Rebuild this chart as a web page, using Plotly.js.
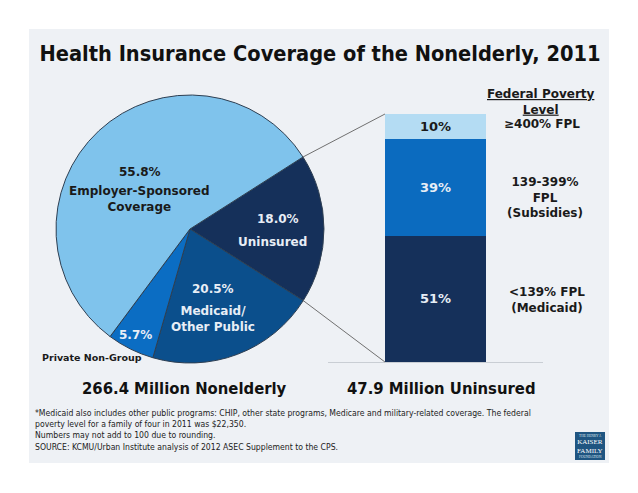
<!DOCTYPE html>
<html>
<head>
<meta charset="utf-8">
<script src="https://cdn.plot.ly/plotly-3.0.1.min.js"></script>
<style>html,body{margin:0;padding:0;background:#fff;}#chart{width:638px;height:493px;}</style>
</head>
<body>
<div id="chart"></div>
<script>
// ---- Data ----
var coverageLabels = ['Uninsured', 'Medicaid/Other Public', 'Private Non-Group', 'Employer-Sponsored Coverage'];
var coverageShares = [18.0, 20.5, 5.7, 55.8];
var coverageColors = ['#15305a', '#0b4f8c', '#0b6dc3', '#7fc3ec'];

var fplLabels = ['<139% FPL (Medicaid)', '139-399% FPL (Subsidies)', '≥400% FPL'];
var fplShares = [51, 39, 10];
var fplColors = ['#15305a', '#0b6bbf', '#b4dcf3'];
var fplTextColors = ['#e6edf5', '#e6edf5', '#1a1a1a'];

var totalNonelderly = '266.4 Million Nonelderly';
var totalUninsured = '47.9 Million Uninsured';

// ---- Geometry (page pixels) ----
var W = 638, H = 493;
function px(x) { return x / W; }
function py(y) { return 1 - y / H; }

var pieCx = 190, pieCy = 229, pieR = 134;
var pieRotation = 57.5;
var barDomX = [328, 543], barDomY = [114, 362];
var barWidth = 0.47;

var FONT = 'DejaVu Sans, Verdana, sans-serif';
var FONTC = 'DejaVu Sans Condensed, DejaVu Sans, sans-serif';

var traces = [];
traces.push({
  type: 'pie',
  labels: coverageLabels,
  values: coverageShares,
  sort: false,
  direction: 'clockwise',
  rotation: pieRotation,
  textinfo: 'none',
  hoverinfo: 'label+percent',
  showlegend: false,
  marker: { colors: coverageColors, line: { color: '#2e3f52', width: 1 } },
  domain: { x: [px(pieCx - pieR), px(pieCx + pieR)], y: [py(pieCy + pieR), py(pieCy - pieR)] }
});

for (var i = 0; i < fplShares.length; i++) {
  traces.push({
    type: 'bar',
    x: ['Uninsured'],
    y: [fplShares[i]],
    name: fplLabels[i],
    width: barWidth,
    text: [fplShares[i] + '%'],
    textposition: 'inside',
    insidetextanchor: 'middle',
    textangle: 0,
    textfont: { family: FONT, size: 13, color: fplTextColors[i], weight: 'bold' },
    marker: { color: fplColors[i], line: { width: 0 } },
    showlegend: false,
    hoverinfo: 'name+y'
  });
}

// connector lines computed from pie data and bar data
var total = coverageShares.reduce(function (a, b) { return a + b; }, 0);
var aStart = pieRotation * Math.PI / 180;
var aEnd = (pieRotation + coverageShares[0] / total * 360) * Math.PI / 180;
function piePt(a) { return [pieCx + pieR * Math.sin(a), pieCy - pieR * Math.cos(a)]; }
var pTop = piePt(aStart), pBot = piePt(aEnd);
var barLeftPx = barDomX[0] + (0.5 - barWidth / 2) * (barDomX[1] - barDomX[0]);
var barSum = fplShares.reduce(function (a, b) { return a + b; }, 0);
var barTopPx = barDomY[1] - (barSum / 100) * (barDomY[1] - barDomY[0]);
var barBotPx = barDomY[1];

var shapes = [
  { type: 'rect', xref: 'paper', yref: 'paper', x0: px(29), x1: px(609), y0: py(463), y1: py(29),
    fillcolor: '#eef1f5', line: { width: 0 }, layer: 'below' },
  { type: 'line', xref: 'paper', yref: 'paper', x0: px(pTop[0]), y0: py(pTop[1]), x1: px(barLeftPx), y1: py(barTopPx),
    line: { color: '#707070', width: 1 } },
  { type: 'line', xref: 'paper', yref: 'paper', x0: px(pBot[0]), y0: py(pBot[1]), x1: px(barLeftPx), y1: py(barBotPx),
    line: { color: '#707070', width: 1 } },
  // logo box
  { type: 'rect', xref: 'paper', yref: 'paper', x0: px(575), x1: px(605), y0: py(460), y1: py(432),
    fillcolor: '#1f5581', line: { width: 0 } }
];

function ann(text, x, y, size, color, opts) {
  var a = { text: text, x: px(x), y: py(y), xref: 'paper', yref: 'paper', showarrow: false,
    xanchor: 'center', yanchor: 'middle',
    font: { family: FONT, size: size, color: color } };
  if (opts) for (var k in opts) a[k] = opts[k];
  return a;
}

var annotations = [
  // pie labels
  ann('<b>' + coverageShares[3].toFixed(1) + '%</b>', 140, 172, 12, '#1a1a1a'),
  ann('<b>Employer-Sponsored<br>Coverage</b>', 139, 199, 12, '#1a1a1a'),
  ann('<b>' + coverageShares[0].toFixed(1) + '%</b>', 278, 219, 12, '#e8eef6'),
  ann('<b>Uninsured</b>', 272, 242, 12, '#e8eef6'),
  ann('<b>' + coverageShares[1].toFixed(1) + '%</b>', 213, 289, 12, '#e8eef6'),
  ann('<b>Medicaid/<br>Other Public</b>', 213, 319, 12, '#e8eef6'),
  ann('<b>' + coverageShares[2].toFixed(1) + '%</b>', 135, 335, 12, '#e8eef6'),
  ann('<b>Private Non-Group</b>', 40, 357, 9.5, '#1a1a1a', { xanchor: 'left' }),
  // right labels
  ann('<b><u>Federal Poverty</u><br><u>Level</u></b>', 541, 102, 12, '#1a1a1a'),
  ann('<b>≥400% FPL</b>', 542, 124, 12, '#1a1a1a'),
  ann('<b>139-399%<br>FPL<br>(Subsidies)</b>', 545, 197, 12, '#1a1a1a'),
  ann('<b>&lt;139% FPL<br>(Medicaid)</b>', 547, 300, 12, '#1a1a1a'),
  // totals
  ann('<b>' + totalNonelderly + '</b>', 184, 388, 16.5, '#111111', { font: { family: FONTC, size: 16.5, color: '#111111' } }),
  ann('<b>' + totalUninsured + '</b>', 442, 388, 16.5, '#111111', { font: { family: FONTC, size: 16.5, color: '#111111' } }),
  // footnotes
  ann('*Medicaid also includes other public programs: CHIP, other state programs, Medicare and military-related coverage. The federal<br>' +
      'poverty level for a family of four in 2011 was $22,350.<br>' +
      'Numbers may not add to 100 due to rounding.<br>' +
      'SOURCE: KCMU/Urban Institute analysis of 2012 ASEC Supplement to the CPS.',
      33, 430, 8.6, '#222222', { xanchor: 'left', align: 'left', font: { family: FONTC, size: 8.6, color: '#222222' } }),
  // logo text
  ann('THE HENRY J.', 590, 436, 3.5, '#dfe8f0', { font: { family: 'Liberation Serif, serif', size: 3.5, color: '#dfe8f0' } }),
  ann('KAISER<br>FAMILY', 590, 446, 7, '#ffffff', { font: { family: 'Liberation Serif, serif', size: 7, color: '#ffffff' } }),
  ann('FOUNDATION', 590, 457, 3.5, '#dfe8f0', { font: { family: 'Liberation Serif, serif', size: 3.5, color: '#dfe8f0' } })
];

var layout = {
  width: W, height: H,
  margin: { l: 0, r: 0, t: 0, b: 0 },
  paper_bgcolor: '#ffffff',
  plot_bgcolor: 'rgba(0,0,0,0)',
  title: { text: '<b>Health Insurance Coverage of the Nonelderly, 2011</b>',
    font: { family: FONTC, size: 21.6, color: '#111111' },
    x: px(320), xanchor: 'center', y: py(53), yanchor: 'middle', xref: 'paper', yref: 'paper' },
  barmode: 'stack',
  showlegend: false,
  xaxis: { domain: [px(barDomX[0]), px(barDomX[1])], range: [-0.5, 0.5], showticklabels: false,
    showgrid: false, zeroline: false, showline: true, linecolor: '#c9ced4', linewidth: 1, fixedrange: true },
  yaxis: { domain: [py(barDomY[1]), py(barDomY[0])], range: [0, 100], visible: false, fixedrange: true },
  shapes: shapes,
  annotations: annotations,
  font: { family: FONT }
};

Plotly.newPlot('chart', traces, layout, { displayModeBar: false, staticPlot: true });
</script>
</body>
</html>
